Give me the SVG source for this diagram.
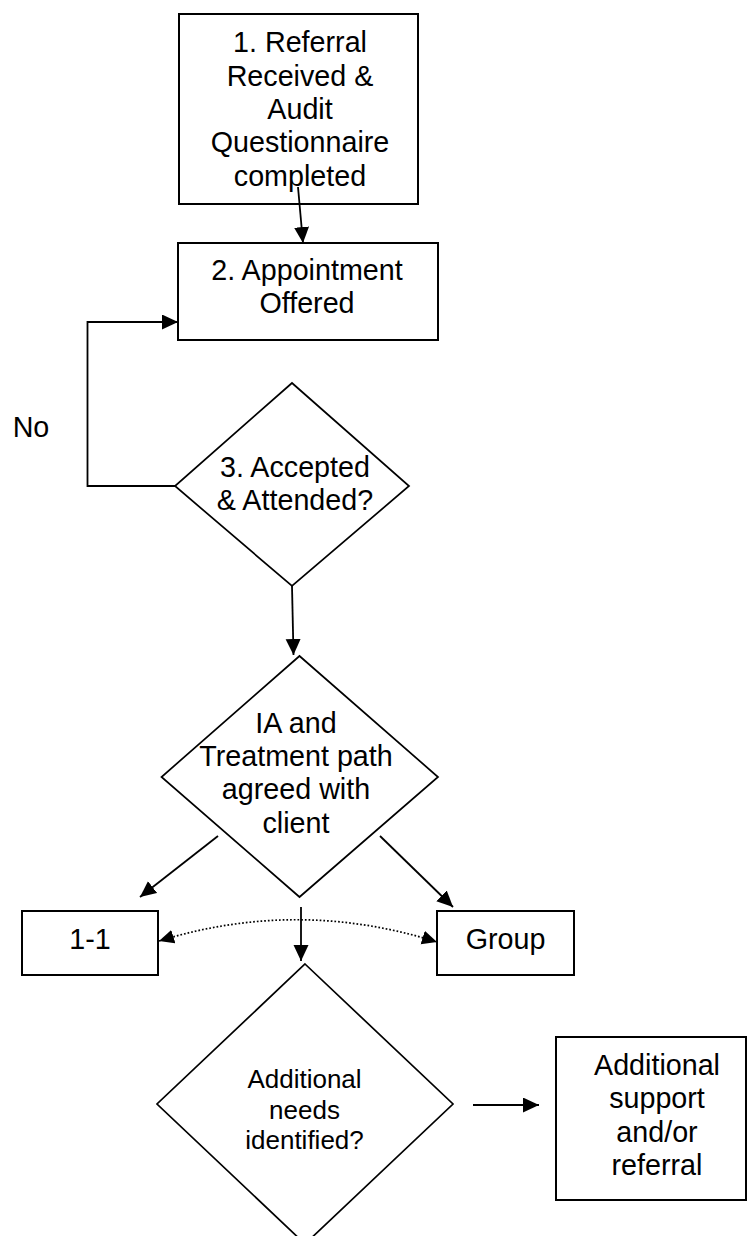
<svg xmlns="http://www.w3.org/2000/svg" width="748" height="1236" viewBox="0 0 748 1236">
  <style>
    .box { fill: #ffffff; stroke: #000000; stroke-width: 2; }
    .dia { fill: #ffffff; stroke: #000000; stroke-width: 1.7; }
    .lbl { font-family: "Liberation Sans", Arial, sans-serif; font-size: 28.7px; fill: #000000; text-anchor: middle; }
    .lbl-sm { font-family: "Liberation Sans", Arial, sans-serif; font-size: 26px; fill: #000000; text-anchor: middle; }
    .edge { fill: none; stroke: #000000; stroke-width: 1.8; }
    .dotted { fill: none; stroke: #000000; stroke-width: 1.7; stroke-dasharray: 1.7 2; }
  </style>
  <defs>
    <marker id="arrow" markerUnits="userSpaceOnUse" markerWidth="18" markerHeight="16" refX="16" refY="7.5" orient="auto">
      <path d="M0,0 L16,7.5 L0,15 z" fill="#000000"/>
    </marker>
    <marker id="arrow-sm" markerUnits="userSpaceOnUse" markerWidth="16" markerHeight="15" refX="15" refY="7" orient="auto-start-reverse">
      <path d="M0,0 L15,7 L0,14 z" fill="#000000"/>
    </marker>
  </defs>

  <rect width="748" height="1236" fill="#ffffff"/>

  <!-- step 1 -->
  <g id="referral">
    <rect class="box" x="179" y="14" width="239" height="190"/>
    <text class="lbl" x="300" y="52.3">1. Referral</text>
    <text class="lbl" x="300" y="85.6">Received &amp;</text>
    <text class="lbl" x="300" y="118.9">Audit</text>
    <text class="lbl" x="300" y="152.2">Questionnaire</text>
    <text class="lbl" x="300" y="185.5">completed</text>
  </g>

  <!-- step 2 -->
  <g id="appointment">
    <rect class="box" x="178" y="243" width="260" height="97"/>
    <text class="lbl" x="307" y="280">2. Appointment</text>
    <text class="lbl" x="307" y="313.3">Offered</text>
  </g>

  <!-- step 3 decision -->
  <g id="accepted">
    <polygon class="dia" points="292,383 409,486 292,586 175,486"/>
    <text class="lbl" x="295" y="476.7">3. Accepted</text>
    <text class="lbl" x="295" y="510">&amp; Attended?</text>
  </g>

  <g id="no-label">
    <text class="lbl" x="31" y="436.7">No</text>
  </g>

  <!-- assessment decision -->
  <g id="treatment">
    <polygon class="dia" points="299.5,656 438,777 299.5,897 161.5,777"/>
    <text class="lbl" x="296" y="732.7">IA and</text>
    <text class="lbl" x="296" y="766">Treatment path</text>
    <text class="lbl" x="296" y="799.3">agreed with</text>
    <text class="lbl" x="296" y="832.6">client</text>
  </g>

  <g id="one-to-one">
    <rect class="box" x="22" y="911" width="136" height="64"/>
    <text class="lbl" x="90" y="949.3">1-1</text>
  </g>

  <g id="group">
    <rect class="box" x="437" y="911" width="137" height="64"/>
    <text class="lbl" x="505.5" y="949.3">Group</text>
  </g>

  <!-- additional needs decision -->
  <g id="additional-needs">
    <polygon class="dia" points="305,964 453,1104 305,1244 157,1104"/>
    <text class="lbl-sm" x="304.5" y="1088.3">Additional</text>
    <text class="lbl-sm" x="304.5" y="1118.8">needs</text>
    <text class="lbl-sm" x="304.5" y="1149.3">identified?</text>
  </g>

  <g id="additional-support">
    <rect class="box" x="556" y="1037" width="190" height="163"/>
    <text class="lbl" x="657" y="1075">Additional</text>
    <text class="lbl" x="657" y="1108.4">support</text>
    <text class="lbl" x="657" y="1141.8">and/or</text>
    <text class="lbl" x="657" y="1175.2">referral</text>
  </g>

  <!-- connectors -->
  <g id="connectors">
    <line class="edge" x1="298" y1="187" x2="303" y2="243" marker-end="url(#arrow)"/>
    <polyline class="edge" points="175,486 87.5,486 87.5,322 178,322" marker-end="url(#arrow)"/>
    <line class="edge" x1="292" y1="586" x2="293.5" y2="655" marker-end="url(#arrow)"/>
    <line class="edge" x1="218" y1="836" x2="140" y2="897" marker-end="url(#arrow)"/>
    <line class="edge" x1="380" y1="836" x2="453" y2="907" marker-end="url(#arrow)"/>
    <line class="edge" x1="301" y1="907" x2="301" y2="961" marker-end="url(#arrow)"/>
    <path class="dotted" d="M159,941 Q298,898 437,942" marker-start="url(#arrow-sm)" marker-end="url(#arrow-sm)"/>
    <line class="edge" x1="473" y1="1105" x2="539" y2="1105" marker-end="url(#arrow)"/>
  </g>
</svg>
